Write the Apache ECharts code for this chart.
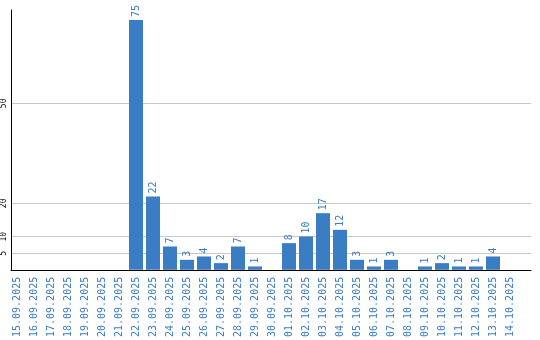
<!DOCTYPE html>
<html>
<head>
<meta charset="utf-8">
<script src="https://cdn.jsdelivr.net/npm/echarts@6/dist/echarts.min.js"></script>
<style>html,body{margin:0;padding:0;background:#fff}#c{width:540px;height:340px}</style>
</head>
<body>
<div id="c"></div>
<script>
const categories = ["15.09.2025","16.09.2025","17.09.2025","18.09.2025","19.09.2025","20.09.2025","21.09.2025","22.09.2025","23.09.2025","24.09.2025","25.09.2025","26.09.2025","27.09.2025","28.09.2025","29.09.2025","30.09.2025","01.10.2025","02.10.2025","03.10.2025","04.10.2025","05.10.2025","06.10.2025","07.10.2025","08.10.2025","09.10.2025","10.10.2025","11.10.2025","12.10.2025","13.10.2025","14.10.2025"];
const values = [0,0,0,0,0,0,0,75,22,7,3,4,2,7,1,0,8,10,17,12,3,1,3,0,1,2,1,1,4,0];
const yTicks = [5,10,20,50];

const FONT = "DejaVu Sans Mono";
const BLUE = "#3b7dc3";
const chart = echarts.init(document.getElementById('c'), null, {renderer:'canvas'});
chart.setOption({
  animation:false,
  grid:[
    {left:10, right:9, top:10, height:260},
    {left:8.5, width:510, top:10, height:260}
  ],
  xAxis:[
    {gridIndex:0, type:'value', min:0, max:1, axisLine:{show:true, onZero:false, lineStyle:{color:'#000', width:1}},
     axisTick:{show:false}, axisLabel:{show:false}, splitLine:{show:false}},
    {gridIndex:1, type:'category', data:categories, axisLine:{show:false}, axisTick:{show:false},
     axisLabel:{interval:0, rotate:90, fontFamily:FONT, fontSize:10, color:BLUE, margin:7}}
  ],
  yAxis:[
    {gridIndex:0, type:'value', min:0, max:78,
     axisLine:{show:true, lineStyle:{color:'#000', width:1}},
     axisTick:{show:false, customValues:yTicks},
     axisLabel:{customValues:yTicks, rotate:90, fontFamily:FONT, fontSize:8, color:'#000', margin:3},
     splitLine:{show:true, lineStyle:{color:'#c8c8c8', width:1}}},
    {gridIndex:1, type:'value', min:0, max:78, show:false, splitLine:{show:false}}
  ],
  series:[{
    type:'bar', xAxisIndex:1, yAxisIndex:1, data:values, barWidth:14,
    itemStyle:{color:BLUE},
    label:{show:true, position:'top', rotate:90, align:'left', verticalAlign:'middle', distance:3,
      fontFamily:FONT, fontSize:10, color:BLUE,
      formatter:p => p.value ? String(p.value) : ''}
  }]
});
</script>
</body>
</html>
